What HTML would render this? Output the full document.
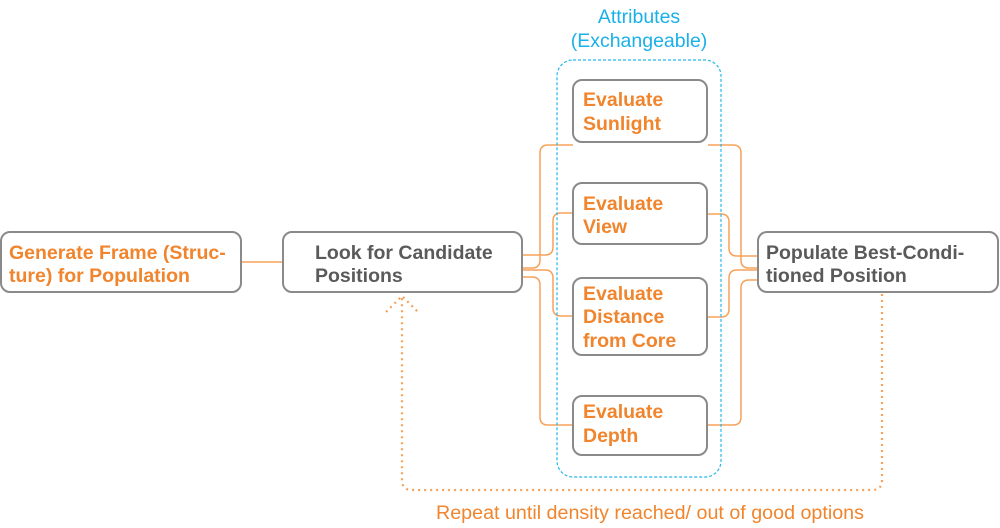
<!DOCTYPE html>
<html><head><meta charset="utf-8"><style>
html,body{margin:0;padding:0;background:#fff;}
svg{display:block;}
text{font-family:"Liberation Sans",Arial,sans-serif;}
.b{font-weight:bold;font-size:19.5px;}
.o{fill:#f0852d;}
.g{fill:#5a5a5a;}
</style></head><body>
<svg width="1000" height="528" viewBox="0 0 1000 528" xmlns="http://www.w3.org/2000/svg">
<g fill="none" stroke="#f5a25a" stroke-width="1.5">
<line x1="241" y1="262" x2="283" y2="262"/>
<path d="M522 268 H532 Q540 268 540 260 V153 Q540 145 548 145 H573"/>
<path d="M522 255 H545 Q553 255 553 247 V221 Q553 213 561 213 H573"/>
<path d="M522 270 H545 Q553 270 553 278 V308 Q553 316 561 316 H573"/>
<path d="M522 277 H532 Q540 277 540 285 V417 Q540 425 548 425 H573"/>
<path d="M708 145 H733 Q741 145 741 153 V260 Q741 268 749 268 H758"/>
<path d="M708 214 H721 Q729 214 729 222 V248 Q729 256 737 256 H758"/>
<path d="M708 317 H721 Q729 317 729 309 V278 Q729 270 737 270 H758"/>
<path d="M708 425 H733 Q741 425 741 417 V288 Q741 280 749 280 H758"/>
</g>
<rect x="557" y="60" width="164" height="417" rx="16" fill="none" stroke="#29b6ea" stroke-width="1.2" stroke-dasharray="3,2"/>
<g fill="#fff" stroke="#8a8a8a" stroke-width="2">
<rect x="1" y="232" width="240" height="60" rx="9"/>
<rect x="283" y="232" width="239" height="60" rx="9"/>
<rect x="758" y="232" width="240" height="60" rx="9"/>
<rect x="573" y="80" width="134" height="62" rx="9"/>
<rect x="573" y="183" width="134" height="61" rx="9"/>
<rect x="573" y="278" width="134" height="77" rx="9"/>
<rect x="573" y="396" width="134" height="59" rx="9"/>
</g>
<g fill="none" stroke="#f5a25a" stroke-width="2.2" stroke-dasharray="2,4">
<path d="M882 294 V480 Q882 490 872 490 H412 Q402 490 402 480 V298"/>
<path d="M386 312 L402 296 L418 312"/>
</g>
<text class="b o" x="9" y="259">Generate Frame (Struc-</text>
<text class="b o" x="9" y="282">ture) for Population</text>
<text class="b g" x="315" y="259">Look for Candidate</text>
<text class="b g" x="315" y="282">Positions</text>
<text class="b g" x="766" y="259">Populate Best-Condi-</text>
<text class="b g" x="766" y="282">tioned Position</text>
<text class="b o" x="583" y="106">Evaluate</text>
<text class="b o" x="583" y="130">Sunlight</text>
<text class="b o" x="583" y="210">Evaluate</text>
<text class="b o" x="583" y="233">View</text>
<text class="b o" x="583" y="300">Evaluate</text>
<text class="b o" x="583" y="323">Distance</text>
<text class="b o" x="583" y="347">from Core</text>
<text class="b o" x="583" y="418">Evaluate</text>
<text class="b o" x="583" y="442">Depth</text>
<text x="639" y="23" text-anchor="middle" font-size="19.5" fill="#1ab0e8">Attributes</text>
<text x="639" y="47" text-anchor="middle" font-size="19.5" fill="#1ab0e8">(Exchangeable)</text>
<text x="650" y="519" text-anchor="middle" font-size="19.7" fill="#f0852d">Repeat until density reached/ out of good options</text>
</svg>
</body></html>
